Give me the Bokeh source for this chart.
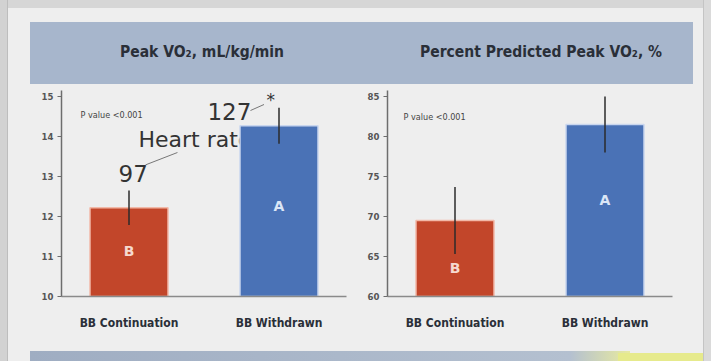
from bokeh.plotting import figure
from bokeh.models import Range1d, FactorRange, Label, Div, FixedTicker
from bokeh.layouts import column, row
from bokeh.embed import file_html
from bokeh.resources import INLINE
from bokeh.core.properties import value

# ---- data ----
groups = ["BB Continuation", "BB Withdrawn"]
group_letters = ["B", "A"]
vo2_values = [12.22, 14.27]
vo2_errors = [0.43, 0.45]
vo2_ticks = [10, 11, 12, 13, 14, 15]
pct_values = [69.5, 81.5]
pct_errors = [4.2, 3.5]
pct_ticks = [60, 65, 70, 75, 80, 85]
titles = ["Peak VO\u2082, mL/kg/min", "Percent Predicted Peak VO\u2082, %"]
p_value_text = "P value <0.001"
heart_rate = [97, 127]
heart_rate_label = "Heart rate"
bar_colors = ["#c2462a", "#4a72b6"]

BG = "#eeeeee"
BAND = "#a7b6cc"
TXT = "#2a2f38"
FONT_N = "Liberation Sans Narrow, DejaVu Sans Condensed, sans-serif"
FONT = "DejaVu Sans, sans-serif"


def make_chart(ticks, y_end, width, bl, br):
    y0 = ticks[0]
    p = figure(x_range=FactorRange(*groups, range_padding=-0.05),
               y_range=Range1d(y0, y_end),
               width=width, height=262, output_backend="svg",
               toolbar_location=None, min_border_left=bl, min_border_right=br,
               min_border_top=2, min_border_bottom=54,
               background_fill_color=BG, border_fill_color=BG,
               outline_line_color=None, styles={"background-color": BG})
    p.xgrid.visible = False
    p.ygrid.visible = False
    p.yaxis.ticker = FixedTicker(ticks=ticks)
    p.yaxis.axis_line_color = "#6d6d6d"
    p.yaxis.axis_line_width = 1.5
    p.yaxis.major_tick_line_color = "#6d6d6d"
    p.yaxis.major_tick_out = 4
    p.yaxis.major_tick_in = 0
    p.yaxis.minor_tick_line_color = None
    p.yaxis.major_label_text_font = FONT_N
    p.yaxis.major_label_text_font_style = "bold"
    p.yaxis.major_label_text_font_size = "9.5px"
    p.yaxis.major_label_text_color = "#555555"
    p.yaxis.major_label_standoff = 4
    p.xaxis.axis_line_color = "#8a8a8a"
    p.xaxis.axis_line_width = 1.5
    p.xaxis.major_tick_line_color = None
    p.xaxis.major_label_text_font = FONT_N
    p.xaxis.major_label_text_font_style = "bold"
    p.xaxis.major_label_text_font_size = "12px"
    p.xaxis.major_label_text_color = TXT
    p.xaxis.major_label_standoff = 13
    return p


def add_pvalue(p, x, y):
    p.add_layout(Label(x=x, y=y, text=p_value_text, text_font=FONT_N,
                       text_font_size="9px", text_color="#444444",
                       text_baseline="middle"))


def add_bars(p, values, errors, y0, letter_frac):
    p.vbar(x=groups, top=values, bottom=y0, width=0.52, fill_color=bar_colors,
           line_color=["#f2b9a8", "#c9d6ee"], line_width=1.5)
    lows = [v - e for v, e in zip(values, errors)]
    highs = [v + e for v, e in zip(values, errors)]
    p.segment(x0=groups, x1=groups, y0=lows, y1=highs,
              line_color="#2b2b2b", line_width=1.5)
    ly = [y0 + f * (v - y0) for f, v in zip(letter_frac, values)]
    p.text(x=groups, y=ly, text=group_letters, text_align="center",
           text_baseline="middle", text_font=value(FONT),
           text_font_style="bold", text_font_size="14px",
           text_color=["#f6d9cf", "#dbe6f6"])


# ---- left chart ----
p1 = make_chart(vo2_ticks, 15.15, 344, 53, 6)
add_pvalue(p1, 0.177, 14.55)
# heart-rate annotation (drawn below bars, so the bar hides its end)
p1.text(x=[0.563], y=[13.92], text=[heart_rate_label], text_font=value(FONT),
        text_font_size="22px", text_color="#333333", text_baseline="middle")
p1.text(x=[0.43, 1.023], y=[13.08, 14.62], text=[str(h) for h in heart_rate],
        text_font=value(FONT), text_font_size="23px", text_color="#333333",
        text_baseline="middle")
p1.segment(x0=[0.61, 1.31], y0=[13.29, 14.65], x1=[0.823, 1.40], y1=[13.6, 14.8],
           line_color="#777777", line_width=1)
add_bars(p1, vo2_values, vo2_errors, vo2_ticks[0], [0.51, 0.53])
p1.text(x=[1.417], y=[14.92], text=["*"], text_font=value(FONT),
        text_font_size="17px", text_color="#333333", text_baseline="middle")

# ---- right chart ----
p2 = make_chart(pct_ticks, 85.75, 351, 35, 31)
add_pvalue(p2, 0.157, 82.4)
add_bars(p2, pct_values, pct_errors, pct_ticks[0], [0.38, 0.56])

title_style = ('position:absolute;top:41px;text-align:center;font-family:%s;'
               'font-weight:bold;font-size:15.5px;color:%s;' % (FONT_N, TXT))
header = Div(text=(
    '<div style="position:relative;width:695px;height:88px;background:%s;">'
    '<div style="position:absolute;left:0;top:0;width:695px;height:8px;background:#d6d6d6;"></div>'
    '<div style="position:absolute;left:22px;top:22px;width:663px;height:62px;'
    'background:%s;"></div>'
    '<div style="%sleft:74px;width:240px;">%s</div>'
    '<div style="%sleft:393px;width:280px;">%s</div>'
    '</div>') % (BG, BAND, title_style, titles[0], title_style, titles[1]),
    width=695, height=88, margin=0, styles={"background-color": BG})

footer = Div(text=(
    '<div style="position:relative;width:695px;height:11px;background:%s;">'
    '<div style="position:absolute;left:22px;top:0;width:600px;height:11px;'
    'background:linear-gradient(90deg,%s 0%%,%s 90%%,#e8eaa0 100%%);"></div>'
    '<div style="position:absolute;left:610px;top:2px;width:85px;height:9px;'
    'background:#e6ea8c;"></div>'
    '</div>') % (BG, "#9fadc2", "#b4c0d0"),
    width=695, height=11, margin=0, styles={"background-color": BG})

left_strip = Div(text='<div style="width:8px;height:361px;background:#d2d2d2;'
                      'border-right:1px solid #bdbdbd;box-sizing:border-box;"></div>',
                 width=8, height=361, margin=0)
right_strip = Div(text='<div style="width:8px;height:361px;background:#dadada;'
                       'border-left:1px solid #c4c4c4;box-sizing:border-box;"></div>',
                  width=8, height=361, margin=0)

charts = row(p1, p2, styles={"background-color": BG})
center = column(header, charts, footer, styles={"background-color": BG})
layout = row(left_strip, center, right_strip, styles={"background-color": BG})
open("out.html", "w").write(file_html(layout, INLINE))
